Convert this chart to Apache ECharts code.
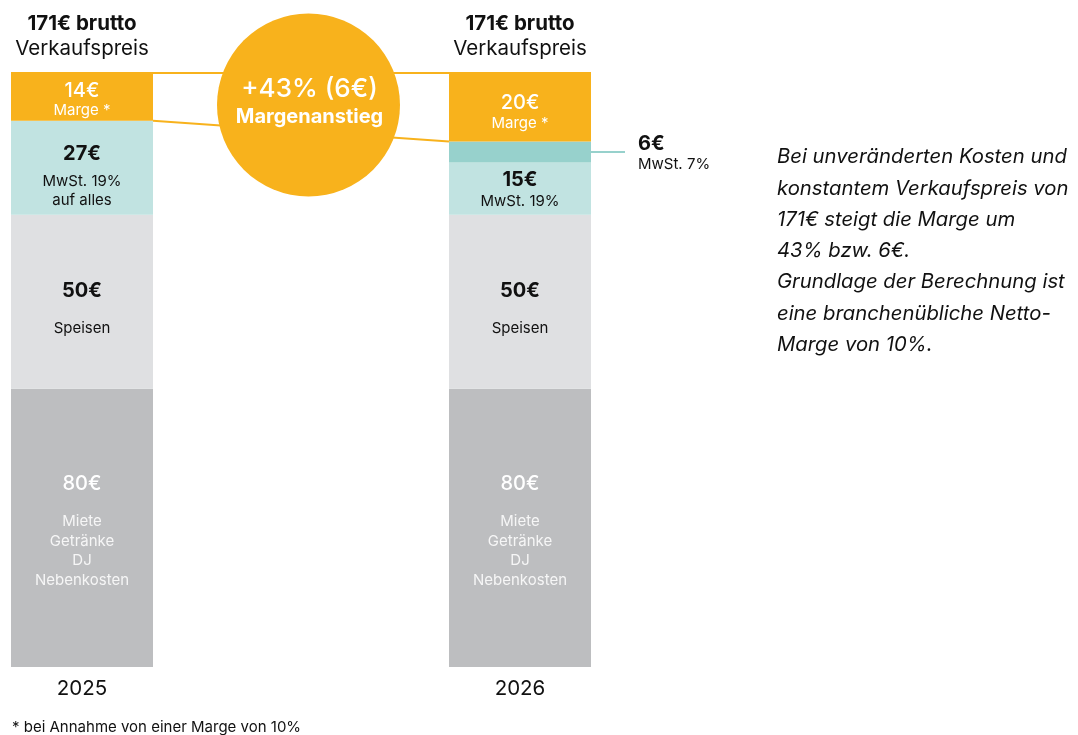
<!DOCTYPE html>
<html><head><meta charset="utf-8">
<script src="https://cdn.jsdelivr.net/npm/echarts@6/dist/echarts.min.js"></script>
<style>html,body{margin:0;padding:0;background:#fff}#c{width:1078px;height:735px}</style>
</head><body><div id="c"></div>
<script>
// ---- data ----
const categories = ['2025', '2026'];
const kosten = [80, 80];
const speisen = [50, 50];
const mwst19 = [27, 15];
const mwst7 = [0, 6];
const marge = [14, 20];
const topLabels = ['171€ brutto', '171€ brutto'];
const topSub = 'Verkaufspreis';
const kostenText = ['Miete', 'Getränke', 'DJ', 'Nebenkosten'];
const speisenText = 'Speisen';
const mwst19Text = [['MwSt. 19%', 'auf alles'], ['MwSt. 19%']];
const mwst7Text = 'MwSt. 7%';
const margeText = 'Marge *';
const circleTitle = '+43% (6€)';
const circleSub = 'Margenanstieg';
const noteLines = [
  'Bei unveränderten Kosten und',
  'konstantem Verkaufspreis von',
  '171€ steigt die Marge um',
  '43% bzw. 6€.',
  'Grundlage der Berechnung ist',
  'eine branchenübliche Netto-',
  'Marge von 10%.'
];
const footnote = '* bei Annahme von einer Marge von 10%';

// ---- styles ----
const FONT = 'Inter, "Noto Sans", sans-serif';
const ORANGE = '#F8B21C';
const TEAL = '#C1E3E1';
const TEAL_DARK = '#97D1CC';
const LIGHT = '#DFE0E2';
const GREY = '#BDBEC0';
const INK = '#111111';
const BAR_W = 142;
const SUB = 15;

const totals = categories.map((_, i) => kosten[i] + speisen[i] + mwst19[i] + mwst7[i] + marge[i]);
const margeBase = categories.map((_, i) => totals[i] - marge[i]);

function withOffsets(values, offsets) {
  return values.map((v, i) => ({ value: v, label: { offset: offsets[i] } }));
}

const chart = echarts.init(document.getElementById('c'), null, { renderer: 'canvas' });

const option = {
  animation: false,
  textStyle: { fontFamily: FONT },
  grid: { left: 82, right: 558, top: 72, bottom: 68 },
  xAxis: [
    {
      type: 'category', data: categories, boundaryGap: false, position: 'bottom',
      axisLine: { show: false }, axisTick: { show: false }, splitLine: { show: false },
      axisLabel: { fontSize: 20.5, color: INK, margin: 11, fontFamily: FONT }
    },
    {
      type: 'category', data: categories, boundaryGap: false, position: 'top',
      axisLine: { show: false }, axisTick: { show: false }, splitLine: { show: false },
      axisLabel: {
        margin: 11, fontFamily: FONT,
        formatter: (v, i) => `{b|${topLabels[i]}}\n{r|${topSub}}`,
        rich: {
          b: { fontSize: 20.5, fontWeight: 700, color: INK, lineHeight: 25, fontFamily: FONT },
          r: { fontSize: 20.5, fontWeight: 400, color: INK, lineHeight: 25, fontFamily: FONT }
        }
      }
    }
  ],
  yAxis: { type: 'value', min: 0, max: Math.max(...totals), show: false, splitLine: { show: false } },
  series: [
    {
      name: 'Kosten', type: 'bar', stack: 'a', barWidth: BAR_W, clip: false,
      itemStyle: { color: GREY },
      data: withOffsets(kosten, [[0, -5], [0, -5]]),
      label: {
        show: true, position: 'inside',
        formatter: p => `{v|${p.value}€}\n` + kostenText.map(t => `{s|${t}}`).join('\n'),
        rich: {
          v: { fontSize: 20, fontWeight: 500, color: '#ffffff', lineHeight: 56, fontFamily: FONT },
          s: { fontSize: SUB, color: '#f6f6f6', lineHeight: 19.5, fontFamily: FONT }
        }
      }
    },
    {
      name: 'Speisen', type: 'bar', stack: 'a', barWidth: BAR_W, clip: false,
      itemStyle: { color: LIGHT },
      data: withOffsets(speisen, [[0, -1], [0, -1]]),
      label: {
        show: true, position: 'inside',
        formatter: p => `{v|${p.value}€}\n{s|${speisenText}}`,
        rich: {
          v: { fontSize: 20, fontWeight: 700, color: INK, lineHeight: 56, fontFamily: FONT },
          s: { fontSize: SUB, color: INK, lineHeight: 19.5, fontFamily: FONT }
        }
      }
    },
    {
      name: 'MwSt. 19%', type: 'bar', stack: 'a', barWidth: BAR_W, clip: false,
      itemStyle: { color: TEAL },
      data: withOffsets(mwst19, [[0, 5.5], [0, 1]]),
      label: {
        show: true, position: 'inside',
        formatter: p => `{v${p.dataIndex}|${p.value}€}\n` + mwst19Text[p.dataIndex].map(t => `{s|${t}}`).join('\n'),
        rich: {
          v0: { fontSize: 20, fontWeight: 700, color: INK, lineHeight: 35, fontFamily: FONT },
          v1: { fontSize: 20, fontWeight: 700, color: INK, lineHeight: 23, fontFamily: FONT },
          s: { fontSize: SUB, color: INK, lineHeight: 19, fontFamily: FONT }
        }
      }
    },
    {
      name: 'MwSt. 7%', type: 'bar', stack: 'a', barWidth: BAR_W, clip: false,
      itemStyle: { color: TEAL_DARK },
      data: mwst7,
      label: { show: false }
    },
    {
      name: 'Marge', type: 'bar', stack: 'a', barWidth: BAR_W, clip: false,
      itemStyle: { color: ORANGE },
      data: withOffsets(marge, [[0, 3.5], [0, 5]]),
      label: {
        show: true, position: 'inside',
        formatter: p => `{v${p.dataIndex}|${p.value}€}\n{s|${margeText}}`,
        rich: {
          v0: { fontSize: 20, fontWeight: 500, color: '#ffffff', lineHeight: 22, fontFamily: FONT },
          v1: { fontSize: 20, fontWeight: 500, color: '#ffffff', lineHeight: 24, fontFamily: FONT },
          s: { fontSize: SUB, color: '#ffffff', lineHeight: 18, fontFamily: FONT }
        }
      }
    },
    {
      name: 'connectors', type: 'custom', clip: false, z: 3, silent: true,
      data: [[0, 0]],
      encode: { x: 0, y: 1 },
      renderItem: (params, api) => {
        const h = BAR_W / 2;
        const a1 = api.coord([0, totals[0]]), b1 = api.coord([1, totals[1]]);
        const a2 = api.coord([0, margeBase[0]]), b2 = api.coord([1, margeBase[1]]);
        const mw = kosten[1] + speisen[1] + mwst19[1] + mwst7[1] / 2;
        const c = api.coord([1, mw]);
        return {
          type: 'group',
          children: [
            { type: 'line', shape: { x1: a1[0] + h, y1: a1[1] + 1, x2: b1[0] - h, y2: b1[1] + 1 }, style: { stroke: ORANGE, lineWidth: 2 } },
            { type: 'line', shape: { x1: a2[0] + h, y1: a2[1], x2: b2[0] - h, y2: b2[1] }, style: { stroke: ORANGE, lineWidth: 2 } },
            { type: 'line', shape: { x1: c[0] + h, y1: c[1], x2: c[0] + h + 34, y2: c[1] }, style: { stroke: TEAL_DARK, lineWidth: 2 } },
            {
              type: 'text', x: c[0] + h + 47, y: c[1] + 1,
              style: {
                text: `{v|${mwst7[1]}€}\n{s|${mwst7Text}}`,
                align: 'left', verticalAlign: 'middle',
                rich: {
                  v: { fontSize: 20, fontWeight: 700, fill: INK, lineHeight: 22, fontFamily: FONT },
                  s: { fontSize: SUB, fill: INK, lineHeight: 18, fontFamily: FONT }
                }
              }
            }
          ]
        };
      }
    }
  ],
  graphic: [
    { type: 'circle', z: 100, shape: { cx: 308.5, cy: 105, r: 91.5 }, style: { fill: ORANGE } },
    {
      type: 'text', z: 101, x: 309.5, y: 89,
      style: { text: circleTitle, fill: '#ffffff', font: `500 26px ${FONT}`, align: 'center', verticalAlign: 'middle' }
    },
    {
      type: 'text', z: 101, x: 309.5, y: 116.5,
      style: { text: circleSub, fill: '#ffffff', font: `700 20px ${FONT}`, align: 'center', verticalAlign: 'middle' }
    },
    {
      type: 'text', z: 100, x: 777, y: 141.5,
      style: {
        text: noteLines.join('\n'), fill: INK, font: `italic 400 20.3px ${FONT}`,
        lineHeight: 31.3, align: 'left', verticalAlign: 'top'
      }
    },
    {
      type: 'text', z: 100, x: 12, y: 727,
      style: { text: footnote, fill: INK, font: `400 15px ${FONT}`, align: 'left', verticalAlign: 'middle' }
    }
  ]
};
chart.setOption(option);
</script></body></html>
